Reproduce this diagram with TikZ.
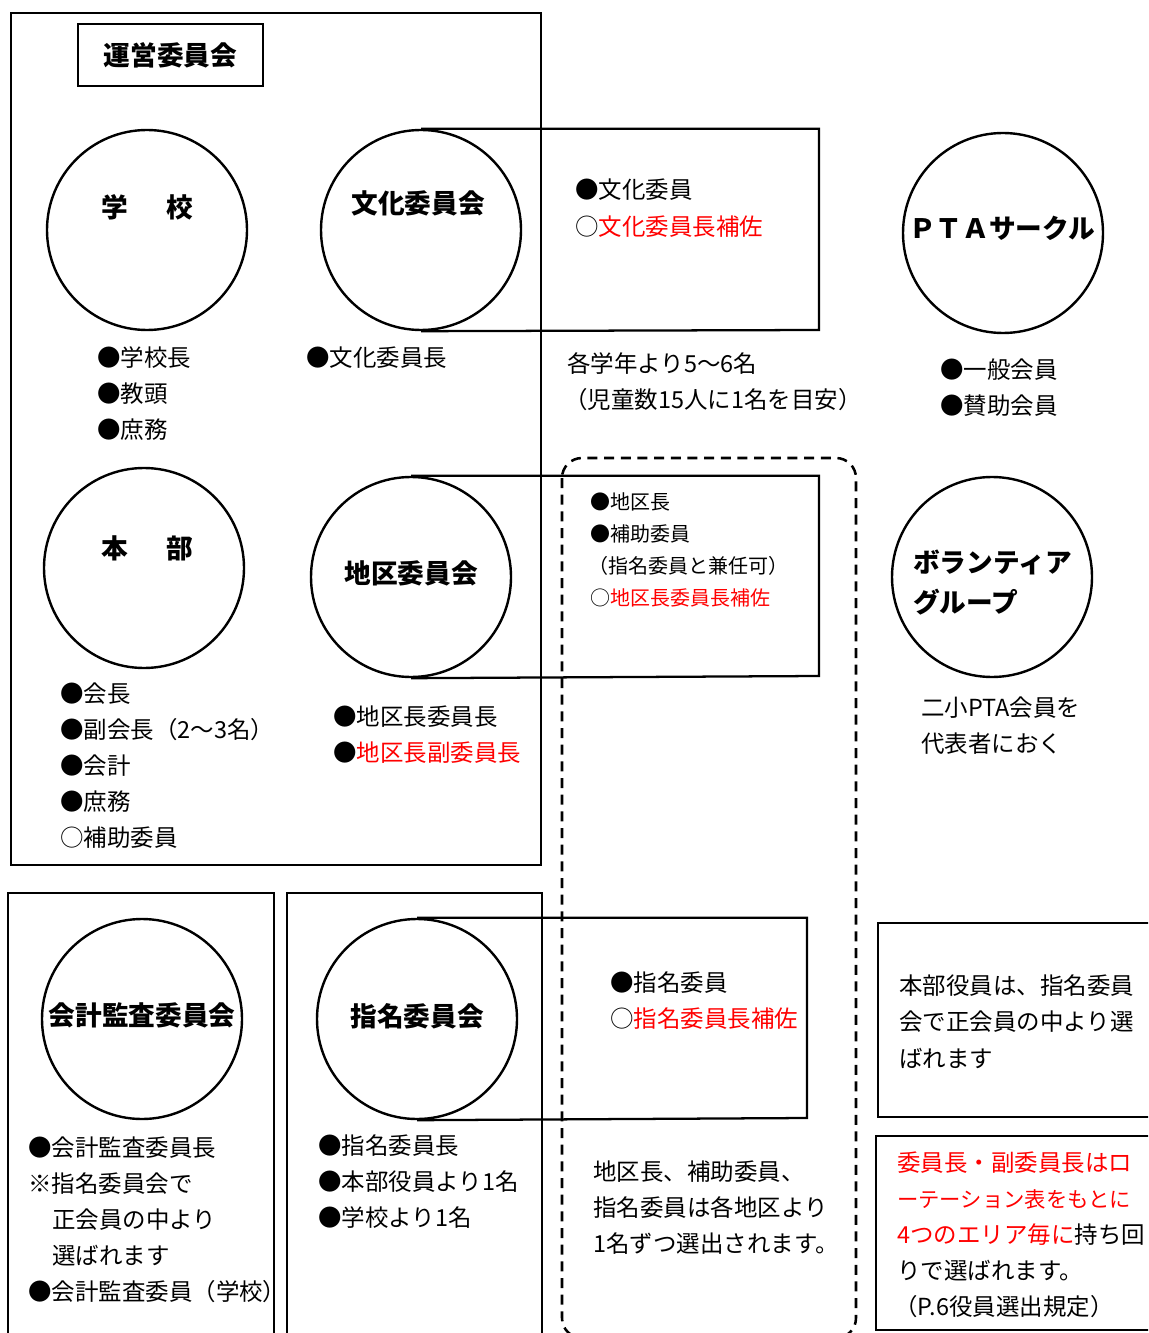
\documentclass[tikz,border=0pt]{standalone}
\usepackage{fontspec}
\setmainfont{Noto Sans CJK JP}
\newcommand\ttlfont{\fontsize{20}{24}\selectfont\bfseries}
\newcommand\entryfont{\fontsize{17.6}{20}\selectfont}
\newcommand\smallfont{\fontsize{15}{18}\selectfont}

\begin{document}
\begin{tikzpicture}[x=0.75pt,y=-0.75pt,
    box/.style={line width=1.7pt},
    circ/.style={draw,circle,line width=1.8pt,fill=white,minimum size=150pt,inner sep=0pt},
    ttl/.style={font=\ttlfont,inner sep=0pt},
    entry/.style={font=\entryfont,anchor=west,inner sep=0pt},
    small/.style={font=\smallfont,anchor=west,inner sep=0pt}]
    \clip (0,0) rectangle (1148,1333);

    % Rahmen
    \draw[box] (11,13) rectangle (541,865);
    \draw[box] (8,893) rectangle (274,1345);
    \draw[box] (287,893) rectangle (542,1345);
    \draw[line width=1.9pt,dash pattern=on 7.5pt off 5pt,rounded corners=15] (562,458) rectangle (856,1338);
    \draw[line width=1.3pt] (878,923) rectangle (1160,1117);
    \draw[line width=1.3pt] (876,1136) rectangle (1160,1330);

    % 運営委員会
    \node[draw,line width=1.1pt,minimum width=138.75pt,minimum height=46.5pt,font=\ttlfont] (unei) at (170.5,55) {運営委員会};

    % 学校
    \node[circ] (gakko) at (147,230) {};
    \node[ttl] (gakkoT) at (147,207) {学\hspace{29pt}校};
    \node[entry] (gakko1) at (97,358) {●学校長};
    \node[entry] (gakko2) at (97,394) {●教頭};
    \node[entry] (gakko3) at (97,430) {●庶務};

    % 文化委員会
    \node[circ] (bunka) at (421,230) {};
    \coordinate (bunkaR) at (819,330);
    \draw[box] (bunka.north) -| (bunkaR) -- (bunka.south);
    \node[ttl] (bunkaT) at (418,203) {文化委員会};
    \node[entry] (bunka0) at (306,358) {●文化委員長};
    \node[entry] (bunka1) at (575,190) {●文化委員};
    \node[entry] (bunka2) at (575,227) {○{\color{red}文化委員長補佐}};
    \node[entry] (bunka3) at (567,364) {各学年より5～6名};
    \node[entry] (bunka4) at (564,400) {（児童数15人に1名を目安）};

    % PTAサークル
    \node[circ] (circle) at (1003,233) {};
    \node[ttl] (circleT) at (1002,228) {ＰＴＡサークル};
    \node[entry] (circle1) at (940,370) {●一般会員};
    \node[entry] (circle2) at (940,406) {●賛助会員};

    % 本部
    \node[circ] (honbu) at (144,568) {};
    \node[ttl] (honbuT) at (147,548) {本\hspace{29pt}部};
    \node[entry] (honbu1) at (60,694) {●会長};
    \node[entry] (honbu2) at (60,730) {●副会長（2～3名）};
    \node[entry] (honbu3) at (60,766) {●会計};
    \node[entry] (honbu4) at (60,802) {●庶務};
    \node[entry] (honbu5) at (60,838) {○補助委員};

    % 地区委員会
    \node[circ] (chiku) at (411,577) {};
    \coordinate (chikuR) at (819,676);
    \draw[box] (chiku.north) -| (chikuR) -- (chiku.south);
    \node[ttl] (chikuT) at (411,573) {地区委員会};
    \node[small] (chiku1) at (590,502) {●地区長};
    \node[small] (chiku2) at (590,534) {●補助委員};
    \node[small] (chiku3) at (588,566) {（指名委員と兼任可）};
    \node[small] (chiku4) at (590,598) {○{\color{red}地区長委員長補佐}};
    \node[entry] (chiku5) at (333,717) {●地区長委員長};
    \node[entry] (chiku6) at (333,753) {●{\color{red}地区長副委員長}};

    % ボランティアグループ
    \node[circ] (volunteer) at (992,577) {};
    \node[ttl,anchor=west] (volunteerT1) at (913,562) {ボランティア};
    \node[ttl,anchor=west] (volunteerT2) at (913,602) {グループ};
    \node[entry] (volunteer1) at (921,708) {二小PTA会員を};
    \node[entry] (volunteer2) at (921,744) {代表者におく};

    % 会計監査委員会
    \node[circ] (kansa) at (142,1019) {};
    \node[ttl] (kansaT) at (142,1015) {会計監査委員会};
    \node[entry] (kansa1) at (28,1148) {●会計監査委員長};
    \node[entry] (kansa2) at (28,1184) {※指名委員会で};
    \node[entry] (kansa3) at (52,1220) {正会員の中より};
    \node[entry] (kansa4) at (52,1256) {選ばれます};
    \node[entry] (kansa5) at (28,1292) {●会計監査委員（学校）};

    % 指名委員会
    \node[circ] (shimei) at (417,1019) {};
    \coordinate (shimeiR) at (807,1118);
    \draw[box] (shimei.north) -| (shimeiR) -- (shimei.south);
    \node[ttl] (shimeiT) at (417,1016) {指名委員会};
    \node[entry] (shimei1) at (610,983) {●指名委員};
    \node[entry] (shimei2) at (610,1019) {○{\color{red}指名委員長補佐}};
    \node[entry] (shimei3) at (318,1146) {●指名委員長};
    \node[entry] (shimei4) at (318,1182) {●本部役員より1名};
    \node[entry] (shimei5) at (318,1218) {●学校より1名};

    % Hinweise
    \node[entry] (note1) at (593,1172) {地区長、補助委員、};
    \node[entry] (note2) at (593,1208) {指名委員は各地区より};
    \node[entry] (note3) at (593,1244) {1名ずつ選出されます。};
    \node[entry] (note4) at (899,986) {本部役員は、指名委員};
    \node[entry] (note5) at (899,1022) {会で正会員の中より選};
    \node[entry] (note6) at (899,1058) {ばれます};
    \node[entry] (note7) at (897,1163) {{\color{red}委員長・副委員長はロ}};
    \node[entry,font=\fontsize{16}{20}\selectfont] (note8) at (897,1199) {{\color{red}ーテーション表をもとに}};
    \node[entry] (note9) at (897,1235) {{\color{red}4つのエリア毎に}持ち回};
    \node[entry] (note10) at (897,1271) {りで選ばれます。};
    \node[entry] (note11) at (894,1307) {（P.6役員選出規定）};
\end{tikzpicture}
\end{document}
